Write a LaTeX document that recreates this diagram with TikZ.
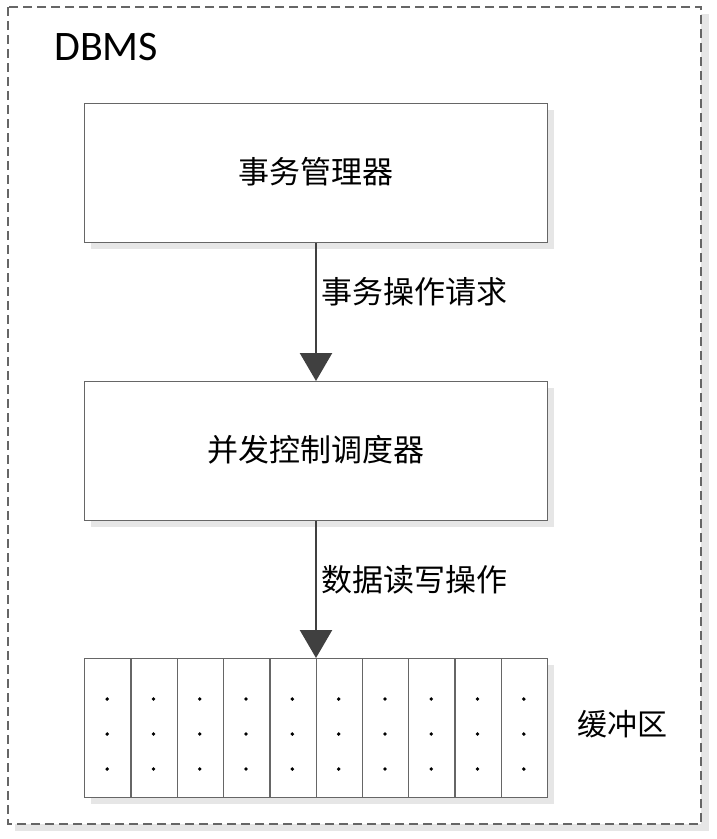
\documentclass[tikz,border=0pt]{standalone}
\usepackage{fontspec}
\setmainfont{Carlito}
\newfontfamily\cjk{Noto Sans CJK SC}
\usetikzlibrary{arrows.meta}
\definecolor{shadowgray}{HTML}{E6E6E6}
\definecolor{linegray}{HTML}{666666}
\definecolor{arrowgray}{HTML}{404040}
\tikzset{
  blk/.style={draw=linegray, line width=1.3pt, fill=white},
  shad/.style={fill=shadowgray, draw=none},
  conn/.style={draw=arrowgray, line width=2.4pt, -{Triangle[width=32pt,length=28pt]}},
  cn/.style={font=\cjk\fontsize{31}{31}\selectfont, inner sep=0pt},
}
\begin{document}
\begin{tikzpicture}[x=1pt,y=-1pt]
\useasboundingbox (0,0) rectangle (717,839);
% outer dashed container with shadow
\fill[shadowgray] (15,14) rectangle (709,831);
\fill[white] (8,7) rectangle (701,824);
\draw[draw=linegray, line width=1.3pt, dash pattern=on 9pt off 5pt] (8,7) rectangle (701,824);
\node[anchor=west, inner sep=0pt, font=\fontsize{42}{42}\selectfont] (dbms) at (54,47) {DBMS};
% top box
\fill[shad] (91,110) rectangle (554,249);
\node[blk, minimum width=463pt, minimum height=139pt, anchor=north west, inner sep=0pt] (tm) at (84,103) {};
\node[cn] (tmt) at (316,172) {事务管理器};
% middle box
\fill[shad] (91,388) rectangle (554,527);
\node[blk, minimum width=463pt, minimum height=139pt, anchor=north west, inner sep=0pt] (cc) at (84,381) {};
\node[cn] (cct) at (316,450) {并发控制调度器};
% buffer
\fill[shad] (91,665) rectangle (554,804);
\foreach \i in {0,...,9} {
  \node[blk, minimum width=46.3pt, minimum height=139pt, anchor=north west, inner sep=0pt] (b\i) at ({84+46.3*\i},658) {};
  \foreach \yy in {699,734,769} {
    \fill ({84+46.3*\i+23.15},\yy) circle (1.9pt);
  }
}
\coordinate (bt) at (316,658);
\node[cn, font=\cjk\fontsize{30}{30}\selectfont] (bl) at (622,724) {缓冲区};
% connectors
\draw[conn] (tm.south -| bt) -- (cc.north -| bt);
\draw[conn] (cc.south -| bt) -- (bt);
\node[cn, anchor=west] (l1) at (321,292) {事务操作请求};
\node[cn, anchor=west] (l2) at (321,580) {数据读写操作};
\end{tikzpicture}
\end{document}
